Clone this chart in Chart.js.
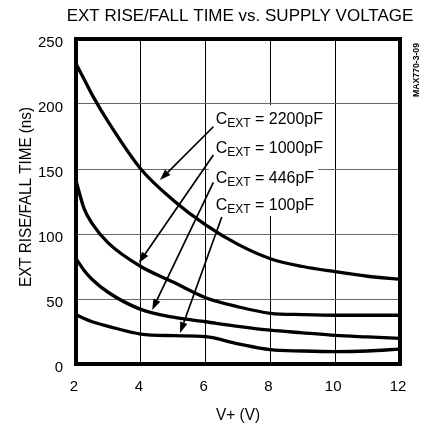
<!DOCTYPE html>
<html><head><meta charset="utf-8">
<script src="https://cdn.jsdelivr.net/npm/chart.js@4.4.0/dist/chart.umd.min.js"></script>
<style>html,body{margin:0;padding:0;background:#fff;}canvas{display:block;}</style>
</head><body>
<canvas id="c" width="428" height="425"></canvas>
<script>
// ---- data ----
const supplyVoltage = [2, 2.25, 2.5, 3, 4, 5, 6, 7, 8, 9, 10, 11, 12];
const cext2200 = [231, 219, 207, 186, 150, 126, 107, 92, 81, 75, 71, 67.5, 65];
const cext1000 = [141, 119.5, 108, 93, 75, 63, 51, 44, 39, 38, 37.5, 37.5, 37.5];
const cext446  = [81, 72, 65, 55, 42, 36, 32.5, 29, 26, 24, 22, 20.8, 19.7];
const cext100  = [38, 35, 32.5, 29, 23, 21.8, 21, 15.5, 11, 10, 9.5, 10, 11.5];
const seriesNames = ['2200pF', '1000pF', '446pF', '100pF'];
const xTicks = [2, 4, 6, 8, 10, 12];
const yTicks = [0, 50, 100, 150, 200, 250];

const titleText = 'EXT RISE/FALL TIME vs. SUPPLY VOLTAGE';
const yTitle = 'EXT RISE/FALL TIME (ns)';
const xTitle = 'V+ (V)';
const codeText = 'MAX770-3-09';

// annotation anchors in data units (V, ns)
const labelAnchors = [
  {lx: 6.31, ly: 184.4, from: [6.24, 182.5], to: [4.59, 141.5]},
  {lx: 6.31, ly: 162.1, from: [6.24, 160.8], to: [3.94, 77.7]},
  {lx: 6.31, ly: 139.0, from: [6.24, 139.8], to: [4.35, 41.5]},
  {lx: 6.31, ly: 118.5, from: [6.50, 113.1], to: [5.21, 23.8]}
];
const labelBox = {x0: 6.10, x1: 9.47, y0: 113.8, y1: 199.2};

const FONT = "'Liberation Sans', Arial, sans-serif";
const seriesData = [cext2200, cext1000, cext446, cext100];

const datasets = seriesData.map((vals, i) => ({
  label: 'CEXT = ' + seriesNames[i],
  data: supplyVoltage.map((v, k) => ({x: v, y: vals[k]})),
  borderColor: '#000',
  borderWidth: 3.3,
  pointRadius: 0,
  fill: false,
  cubicInterpolationMode: 'monotone'
}));

const annotPlugin = {
  id: 'annot',
  beforeDatasetsDraw(chart) {
    const {ctx, scales: {x, y}} = chart;
    ctx.save();
    ctx.fillStyle = '#fff';
    const X0 = x.getPixelForValue(labelBox.x0), X1 = x.getPixelForValue(labelBox.x1);
    const Y0 = y.getPixelForValue(labelBox.y1), Y1 = y.getPixelForValue(labelBox.y0);
    ctx.fillRect(X0, Y0, X1 - X0, Y1 - Y0);
    ctx.restore();
  },
  afterDatasetsDraw(chart) {
    const {ctx, chartArea: a, scales: {x, y}} = chart;
    ctx.save();
    // border
    ctx.strokeStyle = '#000';
    ctx.lineWidth = 4;
    ctx.strokeRect(a.left, a.top, a.right - a.left, a.bottom - a.top);
    // labels and arrows
    ctx.fillStyle = '#000';
    ctx.textBaseline = 'alphabetic';
    ctx.textAlign = 'left';
    labelAnchors.forEach((an, i) => {
      let tx = x.getPixelForValue(an.lx), ty = y.getPixelForValue(an.ly);
      ctx.font = '16px ' + FONT;
      ctx.fillText('C', tx, ty);
      tx += ctx.measureText('C').width;
      ctx.font = '12px ' + FONT;
      ctx.fillText('EXT', tx, ty + 3);
      tx += ctx.measureText('EXT').width;
      ctx.font = '16px ' + FONT;
      ctx.fillText(' = ' + seriesNames[i], tx, ty);
      // arrow
      const sx = x.getPixelForValue(an.from[0]), sy = y.getPixelForValue(an.from[1]);
      const ex = x.getPixelForValue(an.to[0]), ey = y.getPixelForValue(an.to[1]);
      const ang = Math.atan2(ey - sy, ex - sx);
      const L = 11, W = 3.8;
      const bx = ex - L * Math.cos(ang), by = ey - L * Math.sin(ang);
      ctx.lineWidth = 1.7;
      ctx.beginPath(); ctx.moveTo(sx, sy); ctx.lineTo(bx, by); ctx.stroke();
      ctx.beginPath();
      ctx.moveTo(ex, ey);
      ctx.lineTo(bx + W * Math.sin(ang), by - W * Math.cos(ang));
      ctx.lineTo(bx - W * Math.sin(ang), by + W * Math.cos(ang));
      ctx.closePath(); ctx.fill();
    });
    ctx.restore();
  },
  afterDraw(chart) {
    const {ctx, chartArea: a} = chart;
    ctx.save();
    ctx.fillStyle = '#000';
    // title
    ctx.font = '17px ' + FONT;
    ctx.textAlign = 'center';
    ctx.textBaseline = 'alphabetic';
    ctx.fillText(titleText, 240, 21, 356);
    // x title
    ctx.font = '16px ' + FONT;
    ctx.fillText(xTitle, (a.left + a.right) / 2, 420, 44);
    // y title
    ctx.save();
    ctx.translate(30.5, 197);
    ctx.rotate(-Math.PI / 2);
    ctx.font = '17px ' + FONT;
    ctx.fillText(yTitle, 0, 0, 180);
    ctx.restore();
    // code
    ctx.save();
    ctx.translate(418.5, 70);
    ctx.rotate(-Math.PI / 2);
    ctx.font = 'bold 9px ' + FONT;
    ctx.fillText(codeText, 0, 0, 54);
    ctx.restore();
    ctx.restore();
  }
};

new Chart(document.getElementById('c'), {
  type: 'line',
  data: {datasets},
  plugins: [annotPlugin],
  options: {
    responsive: false,
    devicePixelRatio: 1,
    animation: false,
    events: [],
    layout: {padding: {top: 39, right: 28, bottom: 0, left: 0}},
    plugins: {legend: {display: false}, tooltip: {enabled: false}, title: {display: false}},
    scales: {
      x: {
        type: 'linear', min: 2, max: 12,
        afterBuildTicks: s => { s.ticks = xTicks.map(v => ({value: v})); },
        afterFit: s => { s.height = 61; },
        grid: {color: '#000', lineWidth: 1, drawTicks: false},
        border: {display: false},
        ticks: {color: '#000', font: {family: FONT, size: 15}, padding: 14, labelOffset: -2, maxRotation: 0}
      },
      y: {
        min: 0, max: 250,
        afterBuildTicks: s => { s.ticks = yTicks.map(v => ({value: v})); },
        afterFit: s => { s.width = 76; },
        grid: {color: '#666', lineWidth: 1, drawTicks: false},
        border: {display: false},
        ticks: {color: '#000', font: {family: FONT, size: 15}, padding: 13, labelOffset: 4}
      }
    }
  }
});
</script>
</body></html>
